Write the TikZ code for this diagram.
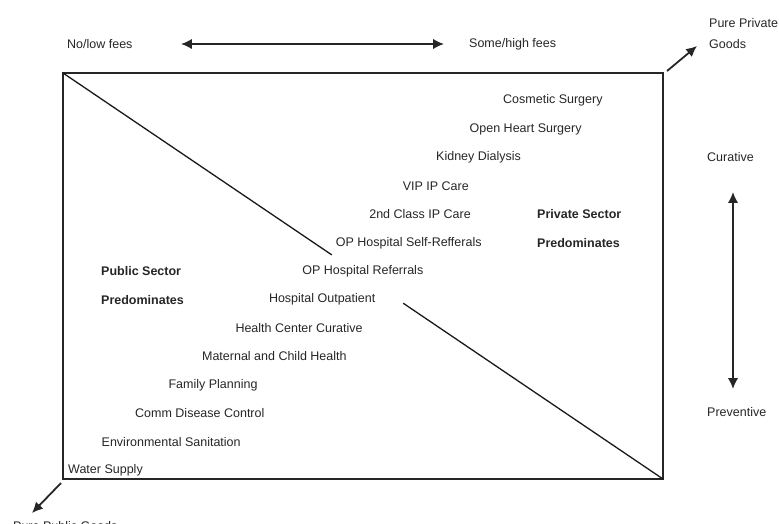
\documentclass[tikz,border=0pt]{standalone}
\usepackage{fontspec}
\setmainfont{Liberation Sans}
\usepackage{tikz}
\usetikzlibrary{arrows.meta, positioning, calc}

\begin{document}
\begin{tikzpicture}[
    x=1pt, y=-1pt,
    item/.style={anchor=west, inner sep=0pt, text=black!85, font=\fontsize{12.5}{15}\selectfont},
    sector/.style={item, font=\fontsize{12.5}{15}\selectfont\bfseries},
    axislabel/.style={item},
    frame/.style={draw=black!85, line width=1.6pt},
    divide/.style={draw=black!90, line width=1.3pt},
    arrow/.style={-{Latex[length=3.8mm, width=3.6mm]}, line width=1.8pt, black!85},
    twoway/.style={{Latex[length=3.8mm, width=3.6mm]}-{Latex[length=3.8mm, width=3.6mm]}, line width=1.8pt, black!85}
]
\useasboundingbox (0,0) rectangle (779,523);

% fee axis
\node[axislabel] (lowfee) at (67,44) {No/low fees};
\node[axislabel] (highfee) at (469,44) {Some/high fees};
\coordinate (feeL) at (181,44);
\coordinate (feeR) at (444,44);
\draw[twoway] (feeL) -- (feeR);

% main frame
\coordinate (tl) at (63,73);
\coordinate (br) at (663,479);
\draw[frame] (tl) rectangle (br);

% diagonal split, broken where the middle services sit
\coordinate (cutA) at ($(tl)!0.448!(br)$);
\coordinate (cutB) at ($(tl)!0.567!(br)$);
\draw[divide] (tl) -- (cutA);
\draw[divide] (cutB) -- (br);

% services, cheapest/preventive at the bottom
\node[item] (water)    at (68,470)    {Water Supply};
\node[item] (sanit)    at (101.5,441.6) {Environmental Sanitation};
\node[item] (disease)  at (135,413.2) {Comm Disease Control};
\node[item] (family)   at (168.4,384.8) {Family Planning};
\node[item] (mch)      at (201.9,356.4) {Maternal and Child Health};
\node[item] (hccur)    at (235.3,328) {Health Center Curative};
\node[item] (hospout)  at (268.8,299.6) {Hospital Outpatient};
\node[item] (opref)    at (302.2,271.2) {OP Hospital Referrals};
\node[item] (opself)   at (335.7,242.8) {OP Hospital Self-Refferals};
\node[item] (ipsecond) at (369.1,214.4) {2nd Class IP Care};
\node[item] (ipvip)    at (402.6,186) {VIP IP Care};
\node[item] (dialysis) at (436,157.6) {Kidney Dialysis};
\node[item] (heart)    at (469.5,129.2) {Open Heart Surgery};
\node[item] (cosmetic) at (503,100.5) {Cosmetic Surgery};

% who dominates each half
\node[sector] (pubA) at (101,271.2) {Public Sector};
\node[sector] (pubB) at (101,299.6) {Predominates};
\node[sector] (privA) at (537,214.4) {Private Sector};
\node[sector] (privB) at (537,242.8) {Predominates};

% goods corners
\node[axislabel] (private1) at (709,23) {Pure Private};
\node[axislabel] (private2) at (709,44) {Goods};
\coordinate (privfrom) at (667,71);
\coordinate (privto) at (697,46);
\draw[arrow] (privfrom) -- (privto);

\node[axislabel] (public) at (13,526) {Pure Public Goods};
\coordinate (pubfrom) at (61,483);
\coordinate (pubto) at (32,513);
\draw[arrow] (pubfrom) -- (pubto);

% curative / preventive axis
\node[axislabel] (curative) at (707,157) {Curative};
\node[axislabel] (preventive) at (707,412) {Preventive};
\coordinate (cureT) at (733,192);
\coordinate (cureB) at (733,389);
\draw[twoway] (cureT) -- (cureB);
\end{tikzpicture}
\end{document}
